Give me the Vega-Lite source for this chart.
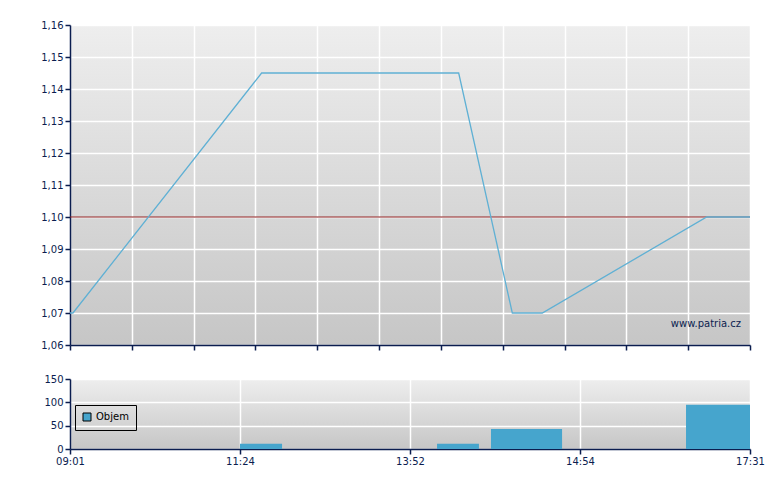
{
  "$schema": "https://vega.github.io/schema/vega-lite/v6.json",
  "background": "white",
  "padding": {"left": 40, "top": 20, "right": 14, "bottom": 5},
  "spacing": 23,
  "datasets": {
    "price": [
      {"t": 0, "cena": 1.07},
      {"t": 0.19, "cena": 1.07},
      {"t": 12.4, "cena": 1.145},
      {"t": 25.15, "cena": 1.145},
      {"t": 28.62, "cena": 1.07},
      {"t": 30.56, "cena": 1.07},
      {"t": 41.2, "cena": 1.10},
      {"t": 44, "cena": 1.10}
    ],
    "volume": [
      {"t0": 11.0, "t1": 13.72, "objem": 11},
      {"t0": 23.75, "t1": 26.46, "objem": 11},
      {"t0": 27.24, "t1": 31.84, "objem": 43},
      {"t0": 39.86, "t1": 44, "objem": 95}
    ],
    "ref": [{"cena": 1.10}],
    "mark": [{"text": "www.patria.cz"}]
  },
  "config": {
    "view": {
      "stroke": null,
      "fill": {"gradient": "linear", "x1": 0, "y1": 0, "x2": 0, "y2": 1,
        "stops": [{"offset": 0, "color": "#eeeeee"}, {"offset": 1, "color": "#c6c6c6"}]}
    },
    "axis": {
      "domainColor": "#0b1d4f", "domainWidth": 1.5,
      "tickColor": "#0b1d4f", "tickSize": 5, "tickWidth": 1.5,
      "labelColor": "#0b1d4f", "labelFont": "DejaVu Sans", "labelFontSize": 10,
      "labelPadding": 2, "labelOverlap": false, "labelFlush": false, "labelBound": false,
      "gridColor": "#ffffff", "gridWidth": 1.5, "gridOpacity": 1,
      "title": null
    },
    "legend": {
      "labelFont": "DejaVu Sans", "labelFontSize": 10, "labelColor": "#000000"
    }
  },
  "vconcat": [
    {
      "width": 680,
      "height": 320,
      "encoding": {
        "y": {"field": "cena", "type": "quantitative",
          "scale": {"domain": [1.06, 1.16], "nice": false, "zero": false},
          "axis": {"values": [1.06, 1.07, 1.08, 1.09, 1.10, 1.11, 1.12, 1.13, 1.14, 1.15, 1.16],
            "labelExpr": "replace(format(datum.value, '.2f'), '.', ',')", "grid": true}}
      },
      "layer": [
        {
          "data": {"name": "ref"},
          "mark": {"type": "rule", "color": "#8b1a1a", "strokeWidth": 1}
        },
        {
          "data": {"name": "price"},
          "mark": {"type": "line", "color": "#5fb0d4", "strokeWidth": 1.3},
          "encoding": {
            "x": {"field": "t", "type": "quantitative",
              "scale": {"domain": [0, 44], "nice": false, "zero": false},
              "axis": {"values": [0, 4, 8, 12, 16, 20, 24, 28, 32, 36, 40, 44], "labels": false, "grid": true}}
          }
        },
        {
          "data": {"name": "mark"},
          "mark": {"type": "text", "align": "right", "baseline": "bottom", "dx": -9, "dy": -16,
            "font": "DejaVu Sans", "fontSize": 10, "color": "#0b1d4f"},
          "encoding": {
            "x": {"value": "width"},
            "y": {"value": "height"},
            "text": {"field": "text"}
          }
        }
      ]
    },
    {
      "width": 680,
      "height": 70,
      "data": {"name": "volume"},
      "mark": {"type": "rect", "color": "#46a5cd"},
      "encoding": {
        "x": {"field": "t0", "type": "quantitative",
          "scale": {"domain": [0, 44], "nice": false, "zero": false},
          "axis": {"values": [0, 11, 22, 33, 44], "grid": true,
            "labelExpr": "datum.value == 0 ? '09:01' : datum.value == 11 ? '11:24' : datum.value == 22 ? '13:52' : datum.value == 33 ? '14:54' : '17:31'"}},
        "x2": {"field": "t1"},
        "y": {"field": "objem", "type": "quantitative",
          "scale": {"domain": [0, 150], "nice": false},
          "axis": {"values": [0, 50, 100, 150], "grid": true}},
        "y2": {"datum": 0},
        "color": {"datum": "Objem", "type": "nominal",
          "scale": {"range": ["#46a5cd"]},
          "legend": {"title": null, "orient": "none", "legendX": 5, "legendY": 380,
            "symbolType": "square", "symbolSize": 64, "symbolStrokeColor": "#000000", "symbolStrokeWidth": 1,
            "symbolFillColor": "#46a5cd", "symbolOpacity": 1,
            "strokeColor": "#000000", "padding": 7, "labelOffset": 4}}
      }
    }
  ]
}
